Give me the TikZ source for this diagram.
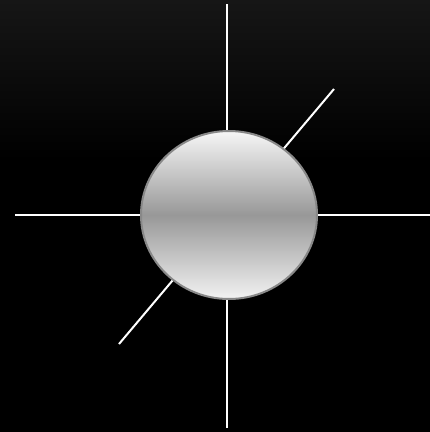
\documentclass[tikz,border=0pt]{standalone}
\usetikzlibrary{shapes.geometric}

\begin{document}
\begin{tikzpicture}[x=1pt,y=-1pt,inner sep=0pt]
\def\u{1}
% background
\fill[black] (0, 0) rectangle (430*\u, 432*\u);
\shade[top color={rgb,255:red,22;green,22;blue,22}, bottom color=black] (0, 0) rectangle (430*\u, 160*\u);
\useasboundingbox (0, 0) rectangle (430*\u, 432*\u);

\coordinate (n) at (227*\u, 4*\u);
\coordinate (s) at (227*\u, 428*\u);
\coordinate (w) at (15*\u, 215*\u);
\coordinate (e) at (430*\u, 215*\u);
\coordinate (ne) at (334*\u, 89*\u);
\coordinate (sw) at (119*\u, 344*\u);

\draw[white, line width=2pt] (n) -- (s);
\draw[white, line width=2pt] (w) -- (e);
\draw[white, line width=2pt] (sw) -- (ne);

\node[ellipse, minimum width=176*\u pt, minimum height=168*\u pt, draw={rgb,255:red,136;green,136;blue,136}, line width=2pt,
  top color={rgb,255:red,246;green,246;blue,246}, bottom color={rgb,255:red,242;green,242;blue,242},
  middle color={rgb,255:red,152;green,152;blue,152}] (ball) at (229*\u, 215*\u) {};
\end{tikzpicture}
\end{document}
